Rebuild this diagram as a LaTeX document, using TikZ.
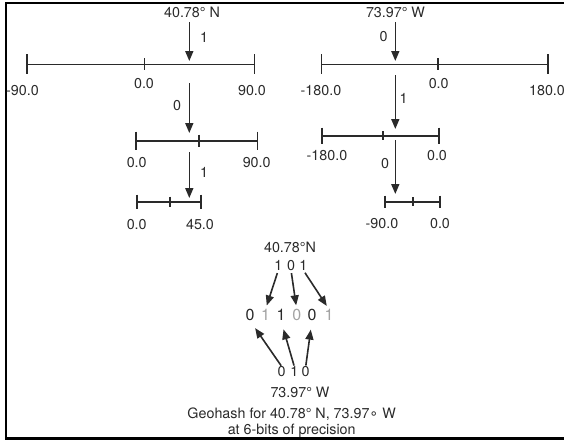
\documentclass[tikz,border=0pt]{standalone}
\usepackage{fontspec}
\setmainfont{TeX Gyre Heros}
\newfontfamily\djv{DejaVu Sans}
\usetikzlibrary{arrows.meta}
\definecolor{ink}{HTML}{2A2A2A}
\definecolor{lite}{HTML}{A3A3A3}
\begin{document}
\begin{tikzpicture}[x=1pt,y=-1pt,
 lbl/.style={inner sep=0pt, text height=10pt, text depth=0pt, font=\fontsize{14.3}{16}\selectfont, text=ink},
 big/.style={inner sep=0pt, text height=11pt, text depth=0pt, font=\fontsize{16}{18}\selectfont, text=ink},
 gry/.style={big, text=lite},
 bar/.style={draw=ink, line width=1.6pt},
 arr/.style={draw=ink, line width=1.6pt, -{Triangle[length=10pt,width=8pt]}},
 ]
\useasboundingbox (0,0) rectangle (564,442);
\draw[line width=2.5pt] (566,3) -- (6,3) -- (6,438.5) -- (566,438.5);

% ---------- latitude ----------
\node[lbl] (latT) at (192,12.5) {40.78\textdegree\ N};
\coordinate (la1s) at (189.3,22);  \coordinate (la1e) at (189.3,61);
\coordinate (la2s) at (189.3,83);  \coordinate (la2e) at (189.3,133);
\coordinate (la3s) at (189.3,152); \coordinate (la3e) at (189.3,198);
\draw[arr] (la1s) -- (la1e);
\draw[arr] (la2s) -- (la2e);
\draw[arr] (la3s) -- (la3e);
\node[lbl] (lb1) at (204,37) {1};
\node[lbl] (lb2) at (177,105) {0};
\node[lbl] (lb3) at (204,172) {1};

\draw[bar] (26.7,64.3) -- (254.3,64.3);
\draw[bar] (26.7,54.3) -- (26.7,74.3);
\draw[bar] (254.3,54.3) -- (254.3,74.3);
\draw[bar] (144.3,58.3) -- (144.3,70.3);
\node[lbl] (l1a) at (22.5,90) {-90.0};
\node[lbl] (l1b) at (144,83) {0.0};
\node[lbl] (l1c) at (252,90) {90.0};

\draw[bar] (135.7,140.7) -- (257.3,140.7);
\draw[bar] (135.7,131.7) -- (135.7,149.7);
\draw[bar] (257.3,131.7) -- (257.3,149.7);
\draw[bar] (199,134.7) -- (199,146.7);
\node[lbl] (l2a) at (136.7,162) {0.0};
\node[lbl] (l2c) at (256.7,162) {90.0};

\draw[bar] (136.7,201.7) -- (200.7,201.7);
\draw[bar] (136.7,194.7) -- (136.7,208.7);
\draw[bar] (200.7,194.7) -- (200.7,208.7);
\draw[bar] (170,196.7) -- (170,206.7);
\node[lbl] (l3a) at (136.7,224) {0.0};
\node[lbl] (l3c) at (200,224) {45.0};

% ---------- longitude ----------
\node[lbl] (lonT) at (395.5,12) {73.97\textdegree\ W};
\coordinate (lo1s) at (395.3,22);  \coordinate (lo1e) at (395.3,61);
\coordinate (lo2s) at (395.3,75);  \coordinate (lo2e) at (395.3,129);
\coordinate (lo3s) at (395.3,140); \coordinate (lo3e) at (395.3,194);
\draw[arr] (lo1s) -- (lo1e);
\draw[arr] (lo2s) -- (lo2e);
\draw[arr] (lo3s) -- (lo3e);
\node[lbl] (ob1) at (383.7,36) {0};
\node[lbl] (ob2) at (403.7,98) {1};
\node[lbl] (ob3) at (385,163) {0};

\draw[bar] (321.3,64.3) -- (548,64.3);
\draw[bar] (321.3,54.3) -- (321.3,74.3);
\draw[bar] (548,54.3) -- (548,74.3);
\draw[bar] (438,58.3) -- (438,70.3);
\node[lbl] (o1a) at (321,90.7) {-180.0};
\node[lbl] (o1b) at (438.7,83) {0.0};
\node[lbl] (o1c) at (547,90) {180.0};

\draw[bar] (322,135.7) -- (438.7,135.7);
\draw[bar] (322,127.7) -- (322,143.7);
\draw[bar] (438.7,127.7) -- (438.7,143.7);
\draw[bar] (382.7,131.2) -- (382.7,140.2);
\node[lbl] (o2a) at (327,155) {-180.0};
\node[lbl] (o2c) at (437,155) {0.0};

\draw[bar] (384.7,201.7) -- (439.7,201.7);
\draw[bar] (384.7,195.7) -- (384.7,207.7);
\draw[bar] (439.7,195.7) -- (439.7,207.7);
\draw[bar] (413,197.2) -- (413,206.2);
\node[lbl] (o3a) at (382,223) {-90.0};
\node[lbl] (o3c) at (440,223) {0.0};

% ---------- interleaving ----------
\node[lbl] (latB) at (290,247) {40.78\textdegree N};
\node[lbl] (t1) at (278.3,265) {1};
\node[lbl] (t2) at (291,265) {0};
\node[lbl] (t3) at (303.3,265) {1};

\node[big] (m1) at (250,315) {0};
\node[gry] (m2) at (265.5,315) {1};
\node[big] (m3) at (281,315) {1};
\node[gry] (m4) at (296.7,315) {0};
\node[big] (m5) at (312,315) {0};
\node[gry] (m6) at (329,315) {1};

\node[lbl] (b1) at (281.7,371.7) {0};
\node[lbl] (b2) at (294.3,371.7) {1};
\node[lbl] (b3) at (305.7,371.7) {0};

\draw[arr, shorten <=3pt, shorten >=4pt] (t1.south) -- (m2.north);
\draw[arr, shorten <=3pt, shorten >=4pt] (t2.south) -- (m4.north);
\draw[arr, shorten <=3pt, shorten >=4pt] (t3.south) -- (m6.north);
\draw[arr, shorten <=1pt, shorten >=9pt] (b1.north) -- (m1.south);
\draw[arr, shorten <=1pt, shorten >=9pt] (b2.north) -- (m3.south);
\draw[arr, shorten <=1pt, shorten >=9pt] (b3.north) -- (m5.south);

\node[lbl] (lonB) at (300,392.7) {73.97\textdegree\ W};
\node[lbl] (cap1) at (291.7,413.3) {Geohash for 40.78\textdegree\ N, 73.97{\djv ∘} W};
\node[lbl] (cap2) at (291.7,429.5) {at 6-bits of precision};
\end{tikzpicture}
\end{document}
